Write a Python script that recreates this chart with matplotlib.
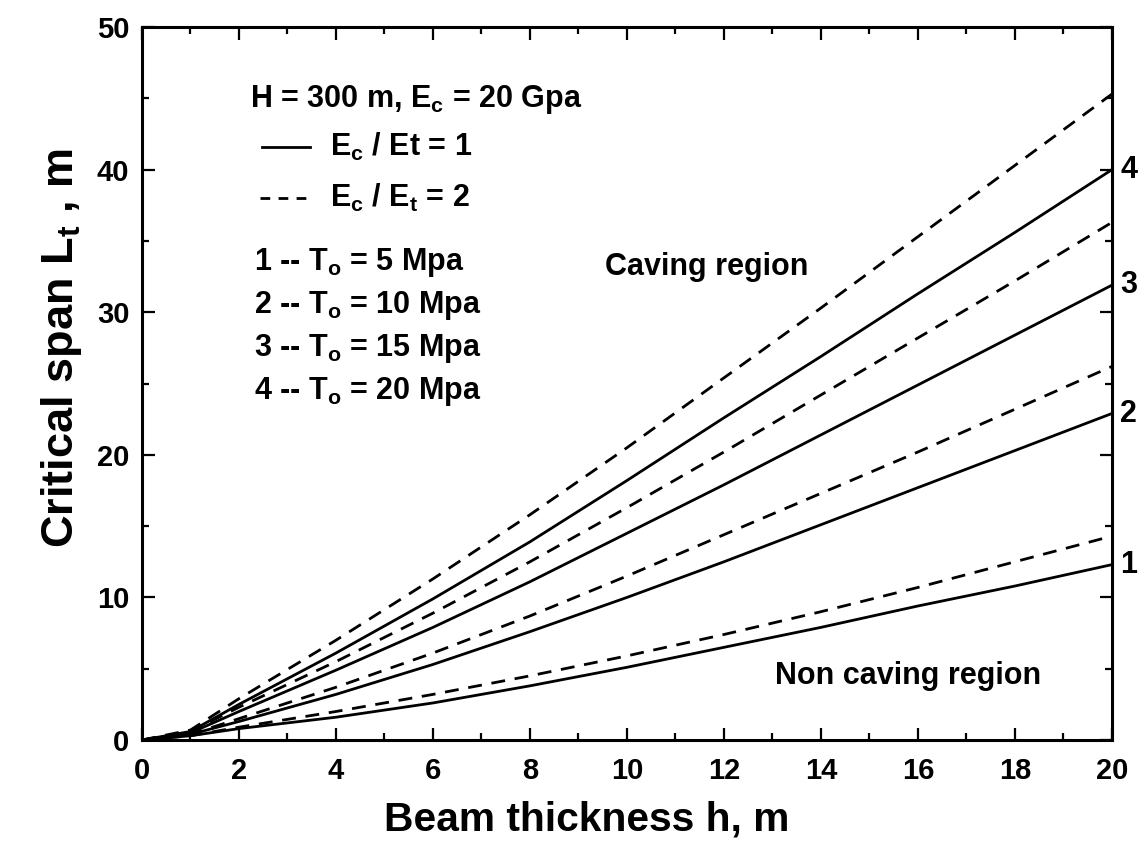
#!/usr/bin/env python3

import matplotlib
matplotlib.use('Agg')
import matplotlib.pyplot as plt

plt.rcParams['font.family'] = ['Liberation Sans', 'DejaVu Sans']
plt.rcParams['font.weight'] = 'bold'
plt.rcParams['mathtext.fontset'] = 'custom'
plt.rcParams['mathtext.bf'] = 'Liberation Sans:bold'
plt.rcParams['mathtext.rm'] = 'Liberation Sans:bold'
plt.rcParams['mathtext.default'] = 'bf'

# beam thickness h [m]
h = [0, 1, 2, 4, 6, 8, 10, 12, 14, 16, 18, 20]

# critical span, Ec/Et = 1 (solid)
solid_1 = [0, 0.3, 0.8, 1.6, 2.6, 3.8, 5.1, 6.5, 7.9, 9.4, 10.8, 12.3]
solid_2 = [0, 0.4, 1.3, 3.2, 5.3, 7.6, 10.0, 12.5, 15.1, 17.7, 20.3, 22.9]
solid_3 = [0, 0.5, 2.0, 4.9, 7.9, 11.1, 14.5, 17.9, 21.4, 24.9, 28.4, 31.9]
solid_4 = [0, 0.6, 2.5, 6.1, 9.9, 13.9, 18.2, 22.6, 26.9, 31.3, 35.6, 40.0]

# critical span, Ec/Et = 2 (dashed)
dash_1 = [0, 0.3, 0.9, 2.0, 3.2, 4.5, 5.9, 7.4, 9.0, 10.7, 12.5, 14.3]
dash_2 = [0, 0.4, 1.5, 3.7, 6.1, 8.7, 11.5, 14.4, 17.3, 20.2, 23.2, 26.2]
dash_3 = [0, 0.6, 2.3, 5.5, 8.9, 12.5, 16.3, 20.2, 24.2, 28.2, 32.2, 36.3]
dash_4 = [0, 0.7, 2.9, 7.0, 11.3, 15.8, 20.5, 25.4, 30.3, 35.3, 40.3, 45.3]

curve_labels = ['1', '2', '3', '4']
legend_lines = [r'1 -- T$_o$ = 5 Mpa', r'2 -- T$_o$ = 10 Mpa',
                r'3 -- T$_o$ = 15 Mpa', r'4 -- T$_o$ = 20 Mpa']

fig = plt.figure(figsize=(11.45, 8.63), dpi=100)
ax = fig.add_axes([0.124, 0.1425, 0.847, 0.826])

lw = 2.0
for s in [solid_1, solid_2, solid_3, solid_4]:
    ax.plot(h, s, '-', color='black', lw=lw)
for d in [dash_1, dash_2, dash_3, dash_4]:
    ax.plot(h, d, '--', color='black', lw=lw, dashes=(5, 3.5))

# curve numbers at the right edge
for lab, s in zip(curve_labels, [solid_1, solid_2, solid_3, solid_4]):
    ax.annotate(lab, xy=(h[-1], s[-1]), xytext=(6, 0), textcoords='offset points',
                ha='left', va='center', fontsize=22, fontweight='bold',
                annotation_clip=False)

ax.set_xlim(0, 20)
ax.set_ylim(0, 50)
ax.set_xticks(range(0, 21, 2))
ax.set_xticks(range(0, 21, 1), minor=True)
ax.set_yticks(range(0, 51, 10))
ax.set_yticks(range(0, 51, 5), minor=True)
ax.tick_params(which='both', direction='in', top=True, right=True, width=1.6)
ax.tick_params(which='major', length=9, labelsize=21)
ax.tick_params(axis='x', which='major', pad=12)
ax.tick_params(axis='y', which='major', pad=9)
ax.tick_params(which='minor', length=5)
for t in ax.get_xticklabels() + ax.get_yticklabels():
    t.set_fontweight('bold')
for sp in ax.spines.values():
    sp.set_linewidth(2.2)

ax.set_xlabel('Beam thickness h, m', fontsize=29.3, fontweight='bold')
ax.xaxis.set_label_coords(0.459, -0.085)
ax.set_ylabel(r'Critical span L$_t$ , m', fontsize=32.5, fontweight='bold')
ax.yaxis.set_label_coords(-0.06, 0.55)

# legend block
fs = 22
ax.text(0.111, 0.898, r'H = 300 m, E$_c$ = 20 Gpa', transform=ax.transAxes,
        fontsize=fs, va='center', ha='left')
ax.plot([0.124, 0.173], [0.832, 0.832], '-', color='black', lw=lw, transform=ax.transAxes)
ax.text(0.194, 0.832, r'E$_c$ / Et = 1', transform=ax.transAxes,
        fontsize=fs, va='center', ha='left')
ax.plot([0.122, 0.171], [0.760, 0.760], '--', color='black', lw=lw,
        dashes=(3.5, 3), transform=ax.transAxes)
ax.text(0.194, 0.760, r'E$_c$ / E$_t$ = 2', transform=ax.transAxes,
        fontsize=fs, va='center', ha='left')
for i, txt in enumerate(legend_lines):
    ax.text(0.116, 0.670 - i * 0.0605, txt, transform=ax.transAxes,
            fontsize=fs, va='center', ha='left')

ax.text(0.477, 0.663, 'Caving region', transform=ax.transAxes,
        fontsize=fs, va='center', ha='left')
ax.text(0.653, 0.090, 'Non caving region', transform=ax.transAxes,
        fontsize=fs, va='center', ha='left')

plt.savefig('out.png', dpi=100)
